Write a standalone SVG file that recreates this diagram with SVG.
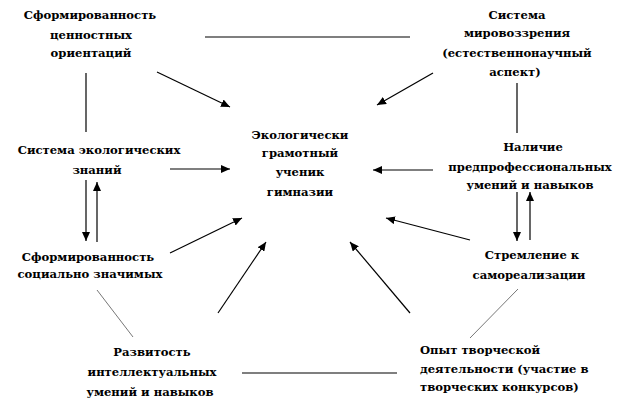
<svg xmlns="http://www.w3.org/2000/svg" width="628" height="413" viewBox="0 0 628 413">
<style>
text{font-family:"DejaVu Serif","Liberation Serif",serif;font-weight:bold;font-size:11.6px;fill:#000;text-anchor:middle}
.l{text-anchor:start}
.c line{stroke:#000;stroke-width:1.2}
.c line.g{stroke:#777;stroke-width:1}
.c line.a{marker-end:url(#ah)}
</style>
<defs>
<marker id="ah" markerUnits="userSpaceOnUse" markerWidth="10" markerHeight="8" refX="9" refY="4" orient="auto">
<path d="M0,0 L9,4 L0,8 z" fill="#000"/>
</marker>
</defs>
<rect width="628" height="413" fill="#fff"/>
<g id="n1"><text x="90" y="19">Сформированность</text><text x="91" y="39">ценностных</text><text x="91" y="57">ориентаций</text></g>
<g id="n2"><text x="517" y="19">Система</text><text x="517" y="37">мировоззрения</text><text x="517" y="57">(естественнонаучный</text><text x="515" y="76">аспект)</text></g>
<g id="n3"><text x="99" y="154">Система экологических</text><text x="97" y="174">знаний</text></g>
<g id="n4"><text x="88" y="261">Сформированность</text><text x="90" y="278">социально значимых</text></g>
<g id="c0"><text x="300" y="139">Экологически</text><text x="300" y="157">грамотный</text><text x="300" y="176">ученик</text><text x="300" y="196">гимназии</text></g>
<g id="n5"><text x="533" y="151">Наличие</text><text x="530" y="171">предпрофессиональных</text><text x="530" y="189">умений и навыков</text></g>
<g id="n6"><text x="532" y="259">Стремление к</text><text x="529" y="279">самореализации</text></g>
<g id="n7"><text x="152" y="356">Развитость</text><text x="152" y="376">интеллектуальных</text><text x="150" y="396">умений и навыков</text></g>
<g id="n8"><text class="l" x="420" y="354">Опыт творческой</text><text class="l" x="420" y="373">деятельности (участие  в</text><text class="l" x="420" y="391">творческих конкурсов)</text></g>
<g class="c" id="connectors">
<line class="a" x1="157" y1="72" x2="230" y2="107"/>
<line x1="205" y1="37" x2="410" y2="37"/>
<line x1="86" y1="73" x2="86" y2="132"/>
<line class="a" x1="433" y1="73" x2="377" y2="105"/>
<line x1="517" y1="83" x2="517" y2="133"/>
<line class="a" x1="170" y1="169" x2="230" y2="169"/>
<line class="a" x1="86" y1="180" x2="86" y2="241"/>
<line class="a" x1="97" y1="242" x2="97" y2="182"/>
<line class="a" x1="433" y1="170" x2="373" y2="170"/>
<line class="a" x1="517" y1="192" x2="517" y2="241"/>
<line class="a" x1="530" y1="240" x2="530" y2="192"/>
<line class="a" x1="470" y1="240" x2="386" y2="218"/>
<line class="a" x1="170" y1="253" x2="242" y2="218"/>
<line class="g" x1="97" y1="290" x2="133" y2="337"/>
<line class="a" x1="218" y1="313" x2="266" y2="242"/>
<line x1="242" y1="373" x2="397" y2="373"/>
<line class="a" x1="410" y1="313" x2="350" y2="242"/>
<line class="g" x1="470" y1="338" x2="518" y2="289"/>
</g>
</svg>
